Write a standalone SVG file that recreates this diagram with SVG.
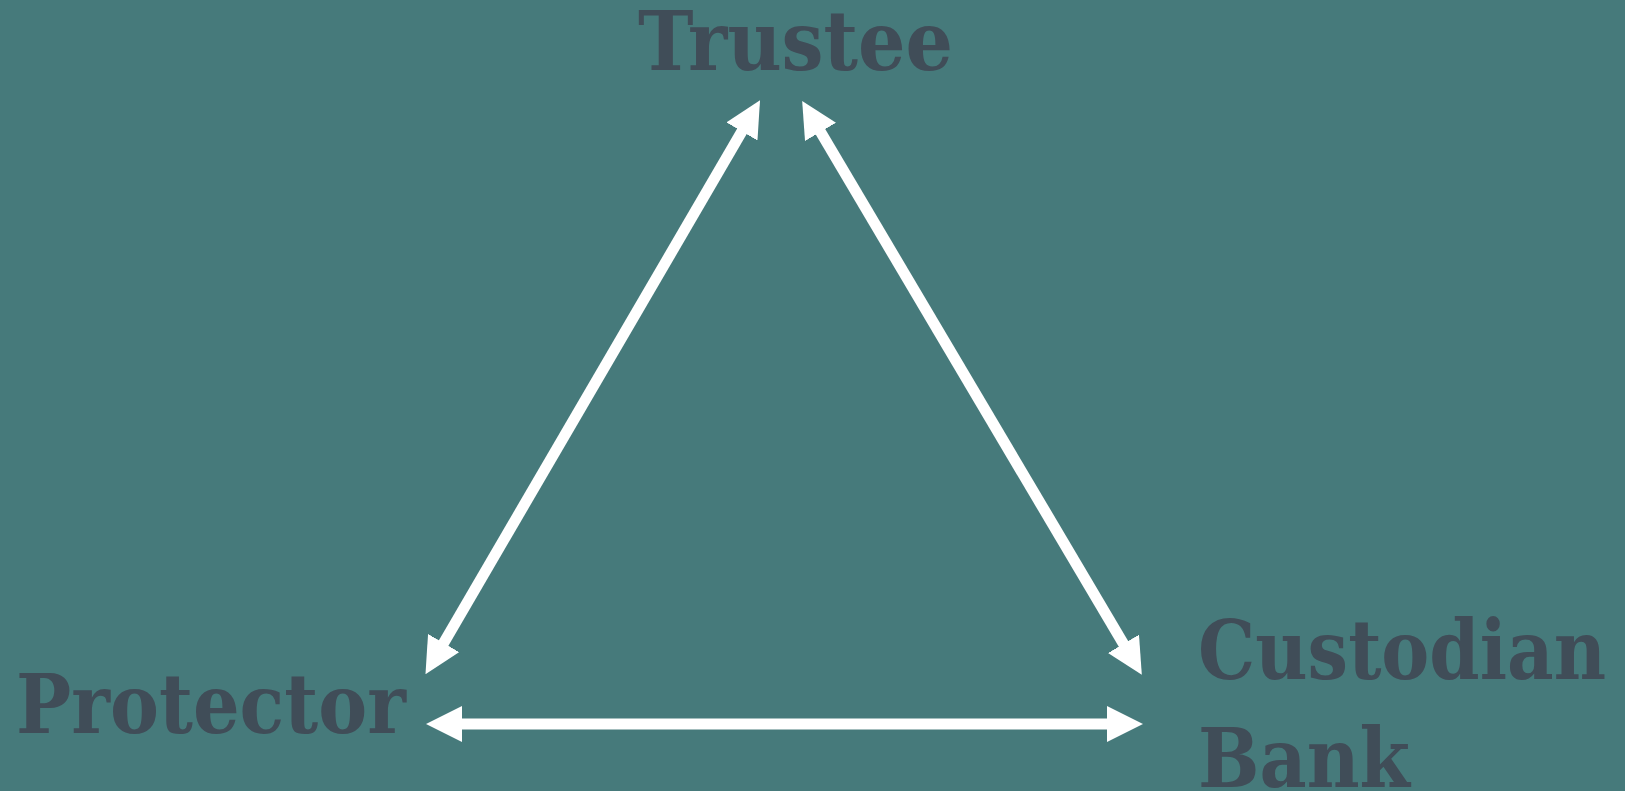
<svg xmlns="http://www.w3.org/2000/svg" width="1625" height="791" viewBox="0 0 1625 791">
  <style>
    .lbl { font-family: "DejaVu Serif", "Liberation Serif", serif; font-weight: bold; font-size: 82px; fill: #404d58; }
    .conn { stroke: #ffffff; stroke-width: 11; fill: none; marker-start: url(#head); marker-end: url(#head); }
  </style>
  <defs>
    <marker id="head" markerUnits="userSpaceOnUse" markerWidth="36" markerHeight="36" refX="1" refY="18" orient="auto-start-reverse" viewBox="0 0 36 36">
      <path d="M0,0 L36,18 L0,36 z" fill="#ffffff"/>
    </marker>
  </defs>
  <rect width="1625" height="791" fill="#467a7b"/>
  <g id="connectors">
    <path class="conn" d="M443.1,643.9 L742.4,130.6"/>
    <path class="conn" d="M820,131 L1124,644.7"/>
    <path class="conn" d="M461,724 L1108,724"/>
  </g>
  <g id="trustee">
    <text class="lbl" x="638" y="70" textLength="315" lengthAdjust="spacingAndGlyphs">Trustee</text>
  </g>
  <g id="protector">
    <text class="lbl" x="16" y="733" textLength="390" lengthAdjust="spacingAndGlyphs">Protector</text>
  </g>
  <g id="custodian-bank">
    <text class="lbl" x="1198" y="679" textLength="408" lengthAdjust="spacingAndGlyphs">Custodian</text>
    <text class="lbl" x="1198" y="787" textLength="212" lengthAdjust="spacingAndGlyphs">Bank</text>
  </g>
</svg>
